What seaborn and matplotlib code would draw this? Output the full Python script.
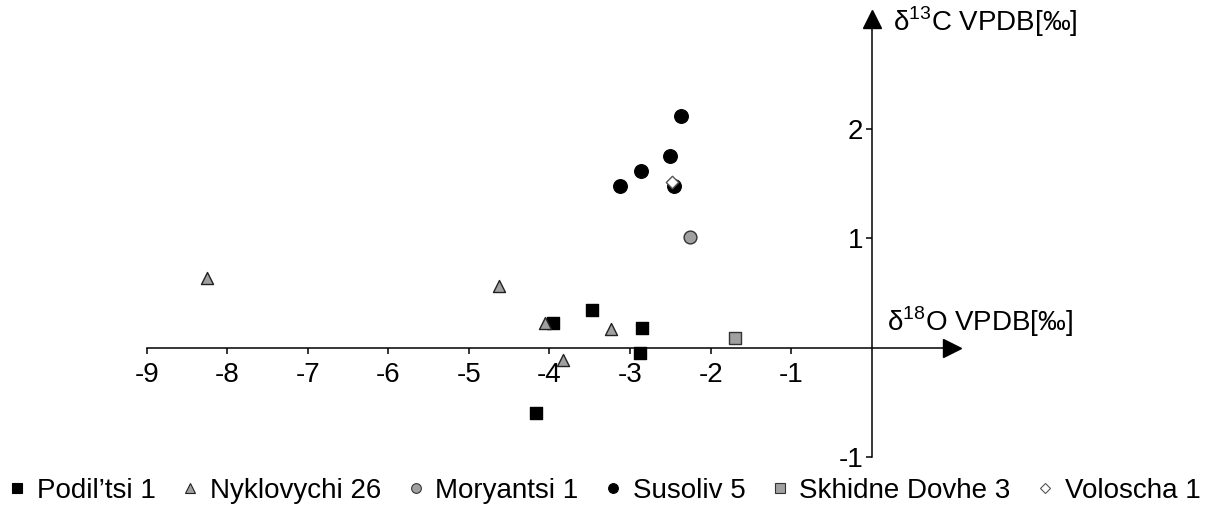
import pandas as pd
import numpy as np
import seaborn as sns
import matplotlib.pyplot as plt
from matplotlib.lines import Line2D

# site data: d18O (x) and d13C (y), VPDB permil
podiltsi_x = [-3.96, -4.17, -3.47, -2.85, -2.88]
podiltsi_y = [0.23, -0.59, 0.35, 0.18, -0.05]
nyklovychi_x = [-8.25, -4.63, -4.06, -3.83, -3.24]
nyklovychi_y = [0.64, 0.57, 0.23, -0.11, 0.17]
moryantsi_x = [-2.26]
moryantsi_y = [1.01]
susoliv_x = [-2.37, -2.50, -2.87, -3.13, -2.46]
susoliv_y = [2.12, 1.75, 1.62, 1.48, 1.48]
skhidne_x = [-1.70]
skhidne_y = [0.09]
voloscha_x = [-2.48]
voloscha_y = [1.52]

sites = ["Podil\u2019tsi 1", "Nyklovychi 26", "Moryantsi 1", "Susoliv 5",
         "Skhidne Dovhe 3", "Voloscha 1"]
xs = [podiltsi_x, nyklovychi_x, moryantsi_x, susoliv_x, skhidne_x, voloscha_x]
ys = [podiltsi_y, nyklovychi_y, moryantsi_y, susoliv_y, skhidne_y, voloscha_y]

x_ticks = [-9, -8, -7, -6, -5, -4, -3, -2, -1]
y_ticks = [-1, 1, 2]

df = pd.concat([pd.DataFrame({"d18O": x, "d13C": y, "site": s})
                for s, x, y in zip(sites, xs, ys)], ignore_index=True)

sns.set_style("white")
plt.rcParams["font.family"] = ["Liberation Sans", "DejaVu Sans"]
plt.rcParams["mathtext.fontset"] = "custom"
plt.rcParams["mathtext.rm"] = "Liberation Sans"
plt.rcParams["text.color"] = "black"
plt.rcParams["xtick.color"] = "black"
plt.rcParams["ytick.color"] = "black"

# marker, face, edge, size
styles = {
    sites[0]: ("s", "black", "black", 85),
    sites[1]: ("^", "#a0a0a0", "#222222", 75),
    sites[2]: ("o", "#a0a0a0", "#333333", 85),
    sites[3]: ("o", "black", "black", 95),
    sites[4]: ("s", "#a0a0a0", "#333333", 85),
    sites[5]: ("D", "white", "#555555", 40),
}

fig = plt.figure(figsize=(12.19, 5.11), dpi=100)
ax = fig.add_axes([0, 0, 1, 1])

for s in sites:
    m, fc, ec, sz = styles[s]
    sns.scatterplot(data=df[df.site == s], x="d18O", y="d13C", marker=m,
                    color=fc, edgecolor=ec, linewidth=1.0, s=sz, ax=ax,
                    zorder=3, legend=False)

ax.set_xlim(-10.82, 4.31)
ax.set_ylim(-1.489, 3.178)

for side in ["top", "right"]:
    ax.spines[side].set_visible(False)
ax.spines["left"].set_position(("data", 0))
ax.spines["bottom"].set_position(("data", 0))
ax.spines["bottom"].set_bounds(-9, 0.95)
ax.spines["left"].set_bounds(-1, 2.95)
for side in ["left", "bottom"]:
    ax.spines[side].set_linewidth(1.1)
    ax.spines[side].set_color("black")

ax.plot(1.0, 0, marker=">", color="black", ms=13, clip_on=False)
ax.plot(0, 3.0, marker="^", color="black", ms=13, clip_on=False)

ax.set_xticks(x_ticks)
ax.set_xticklabels([str(v) for v in x_ticks])
ax.set_yticks(y_ticks)
ax.set_yticklabels([str(v) for v in y_ticks])
ax.tick_params(axis="both", direction="out", length=4, width=1.1,
               labelsize=20, color="black", labelcolor="black", pad=2)
ax.tick_params(axis="x", bottom=True, pad=6)
ax.tick_params(axis="y", left=True)
ax.set_xlabel("")
ax.set_ylabel("")

ax.text(0.26, 2.98, r"δ$^{13}$C VPDB[‰]", fontsize=20, va="center",
        ha="left", color="black")
ax.text(0.19, 0.24, r"δ$^{18}$O VPDB[‰]", fontsize=20, va="center",
        ha="left", color="black")

handles = []
for s in sites:
    m, fc, ec, sz = styles[s]
    ms = 7 if m != "D" else 5
    handles.append(Line2D([], [], linestyle="", marker=m, markerfacecolor=fc,
                          markeredgecolor=ec if m != "D" else "#555555",
                          markeredgewidth=0.8, markersize=ms, label=s))
leg = ax.legend(handles=handles, loc="center left", bbox_to_anchor=(0.005, 0.04),
                ncol=6, frameon=False, fontsize=20, handletextpad=0.3,
                columnspacing=0.85, handlelength=0.8, borderaxespad=0,
                borderpad=0)
for t in leg.get_texts():
    t.set_color("black")

ax.grid(False)
fig.savefig("out.png", dpi=100)
